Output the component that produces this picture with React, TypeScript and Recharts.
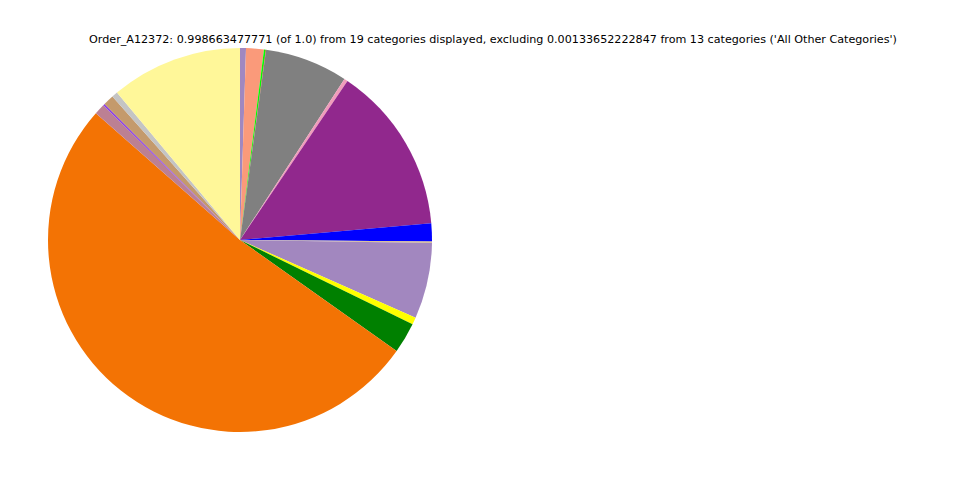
import { PieChart, Pie, Cell } from "recharts"

// slices clockwise from 12 o'clock
const categories = [
  "Cat 1", "Cat 2", "Cat 3", "Cat 4", "Cat 5", "Cat 6", "Cat 7", "Cat 8",
  "Cat 9", "Cat 10", "Cat 11", "Cat 12", "Cat 13", "Cat 14", "Cat 15",
  "Cat 16", "Cat 17", "Cat 18", "Cat 19",
]
const shares = [
  0.5, 1.5, 0.15, 0.03, 7.0, 0.3, 14.2, 1.5, 0.1, 0.03, 6.4, 0.6, 2.6, 51.8,
  0.9, 0.15, 0.9, 0.5, 11.1,
]
const colors = [
  "#a088c0", "#fa9a7a", "#00ff00", "#ff0000", "#808080", "#f19cbb", "#91288d",
  "#0000ff", "#d8b98c", "#c8a878", "#a287bf", "#ffff00", "#008000", "#f37304",
  "#bc8093", "#8b3ee6", "#c49a6c", "#c4c4c4", "#fff799",
]

const title =
  "Order_A12372: 0.998663477771 (of 1.0) from 19 categories displayed, excluding 0.00133652222847 from 13 categories ('All Other Categories')"

const data = categories.map((name, i) => ({ name, value: shares[i] }))

export default function App() {
  return (
    <div
      style={{
        position: "absolute",
        left: 0,
        top: 0,
        width: 960,
        height: 480,
        background: "#fff",
      }}
    >
      <PieChart
        width={960}
        height={480}
        margin={{ top: 0, right: 0, bottom: 0, left: 0 }}
      >
        <text
          x={493}
          y={43}
          textAnchor="middle"
          fontFamily="DejaVu Sans"
          fontSize={11.15}
          fill="#000"
        >
          {title}
        </text>
        <Pie
          data={data}
          dataKey="value"
          cx={240}
          cy={240}
          innerRadius={0}
          outerRadius={192}
          startAngle={90}
          endAngle={-270}
          stroke="none"
          isAnimationActive={false}
        >
          {data.map((d, i) => (
            <Cell key={d.name} fill={colors[i]} />
          ))}
        </Pie>
      </PieChart>
    </div>
  )
}
